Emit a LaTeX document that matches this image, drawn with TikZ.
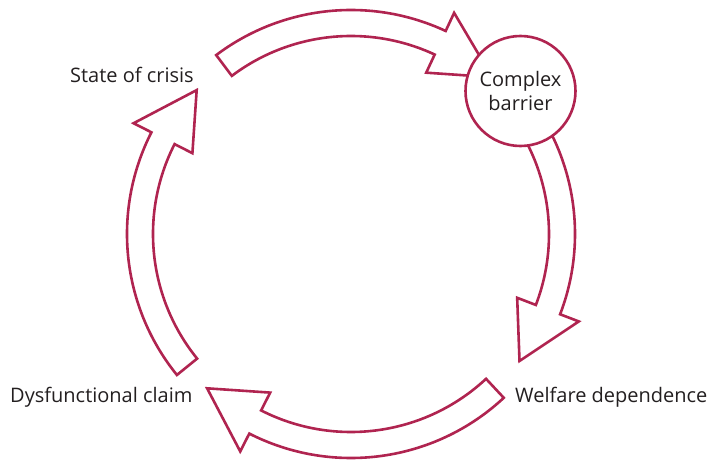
\documentclass[tikz,border=0pt]{standalone}
\usepackage{fontspec}
\setmainfont{Open Sans}
\definecolor{berry}{RGB}{176,36,80}
\definecolor{ink}{RGB}{35,31,32}

\begin{document}
\begin{tikzpicture}[x=1pt, y=1pt,
	band/.style={draw=berry, line width=2.6pt, fill=white, line join=miter},
	stage/.style={font=\fontsize{20}{24}\selectfont, text=ink, inner sep=0pt},
	hub/.style={circle, draw=berry, line width=2.6pt, fill=white, minimum size=110pt,
		inner sep=0pt, align=center, font=\fontsize{20}{24}\selectfont, text=ink}]
\useasboundingbox (0,0) rectangle (707,459);
\coordinate (mid) at (351,225);

\begin{scope}[shift={(mid)}]
\draw[band] (127:224) arc[start angle=127, end angle=65, radius=224] --
	(65:244) -- (48:211) -- (65:178) --
	(65:198) arc[start angle=65, end angle=127, radius=198] -- cycle;
\draw[band] (38:224) arc[start angle=38, end angle=-21, radius=224] --
	(-21:244) -- (-37:211) -- (-21:178) --
	(-21:198) arc[start angle=-21, end angle=38, radius=198] -- cycle;
\draw[band] (-47:224) arc[start angle=-47, end angle=-117, radius=224] --
	(-117:244) -- (-133:211) -- (-117:178) --
	(-117:198) arc[start angle=-117, end angle=-47, radius=198] -- cycle;
\draw[band] (219:224) arc[start angle=219, end angle=153, radius=224] --
	(153:244) -- (137:211) -- (153:178) --
	(153:198) arc[start angle=153, end angle=219, radius=198] -- cycle;
\end{scope}

\path (520.5,368) node[hub] (barrier) {Complex\\barrier};
\path (70,376) node[stage, anchor=base west] (crisis) {State of crisis};
\path (10,57) node[stage, anchor=base west] (claim) {Dysfunctional claim};
\path (515,57) node[stage, anchor=base west] (welfare) {Welfare dependence};
\end{tikzpicture}
\end{document}
